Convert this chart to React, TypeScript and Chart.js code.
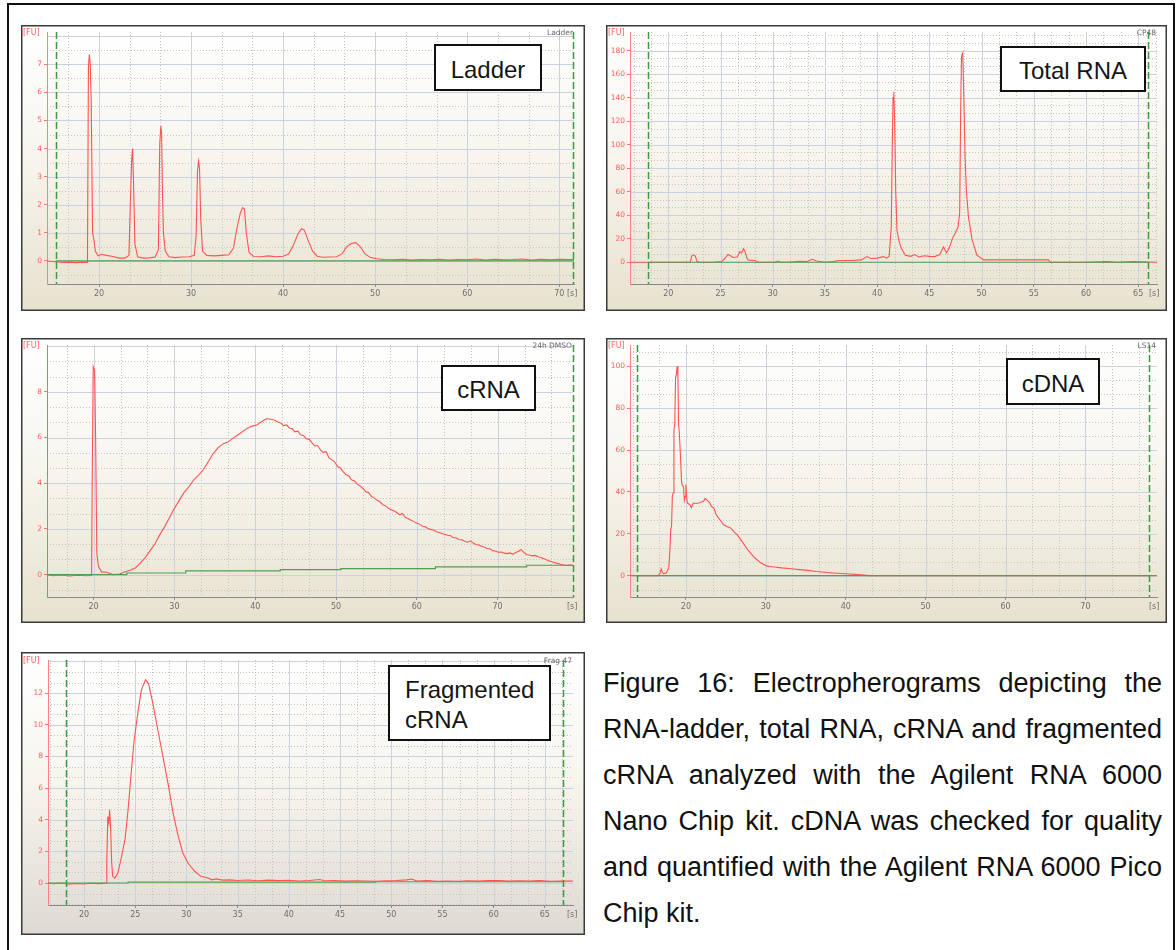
import React, { useEffect, useRef } from "react";
import { Chart, registerables } from "chart.js";

Chart.register(...registerables);

// ---------------- DATA ----------------
// Ladder
const ladderTime = [
  14.35, 16.1, 16.8, 17.5, 18.2, 18.7, 18.75, 18.85, 18.95, 19.05,
  19.15, 19.3, 19.45, 19.6, 19.9, 20.3, 20.8, 21.5, 22.2, 22.8,
  23.25, 23.4, 23.55, 23.65, 23.75, 23.9, 24.2, 24.8, 25.5, 26.1,
  26.45, 26.6, 26.72, 26.8, 26.9, 27.0, 27.2, 27.6, 28.3, 29.0,
  29.8, 30.35, 30.55, 30.7, 30.82, 30.92, 31.05, 31.25, 31.7, 32.5,
  33.3, 34.1, 34.6, 35.0, 35.35, 35.6, 35.8, 36.0, 36.3, 36.8,
  37.6, 38.4, 39.2, 40.0, 40.6, 41.1, 41.6, 42.0, 42.3, 42.7,
  43.2, 43.7, 44.3, 45.0, 45.8, 46.4, 46.9, 47.4, 47.9, 48.4,
  48.9, 49.5, 50.2, 51.0, 52.0, 53.0, 54.0, 55.0, 56.0, 57.0,
  58.0, 59.0, 60.0, 61.0, 62.0, 63.0, 64.0, 65.0, 66.0, 67.0,
  68.0, 69.0, 70.0, 71.0, 71.6,
];
const ladderFU = [
  0, -0.05, -0.04, -0.06, -0.04, -0.05, 0.3, 6.9, 7.35, 7.0,
  5.7, 1.0, 0.75, 0.35, 0.18, 0.24, 0.2, 0.16, 0.1, 0.1,
  0.2, 2.0, 3.6, 4.0, 2.8, 0.6, 0.15, 0.1, 0.11, 0.14,
  0.4, 4.2, 4.8, 4.5, 2.3, 1.0, 0.35, 0.15, 0.12, 0.14,
  0.15, 0.2, 0.9, 3.2, 3.55, 3.3, 1.5, 0.35, 0.2, 0.18,
  0.2, 0.22, 0.45, 1.2, 1.7, 1.9, 1.85, 1.0, 0.3, 0.16,
  0.15, 0.18, 0.15, 0.17, 0.25, 0.55, 0.95, 1.15, 1.1, 0.75,
  0.35, 0.17, 0.13, 0.14, 0.15, 0.25, 0.5, 0.62, 0.65, 0.5,
  0.25, 0.12, 0.08, 0.05, 0.04, 0.06, 0.03, 0.05, 0.04, 0.06,
  0.03, 0.05, 0.04, 0.07, 0.03, 0.06, 0.04, 0.05, 0.07, 0.03,
  0.06, 0.04, 0.06, 0.05, 0.05,
];
const ladderBaseTime = [15.3, 71.6];
const ladderBaseFU = [0, 0];
const ladderMarkers = [15.3, 71.5];
const ladderXTicks = [20, 30, 40, 50, 60, 70];
const ladderYTicks = [0, 1, 2, 3, 4, 5, 6, 7];

// Total RNA
const totalTime = [
  16.33, 18.0, 20.0, 22.1, 22.25, 22.45, 22.6, 22.75, 23.0, 24.4,
  25.1, 25.4, 25.7, 25.9, 26.2, 26.6, 26.85, 27.0, 27.2, 27.35,
  27.55, 27.7, 28.3, 28.6, 30.2, 30.5, 30.8, 31.5, 32.5, 33.2,
  33.8, 34.2, 35.0, 35.8, 36.3, 37.5, 38.5, 39.0, 39.4, 40.0,
  40.6, 40.9, 41.15, 41.35, 41.45, 41.52, 41.6, 41.68, 41.78, 41.9,
  42.1, 42.3, 42.7, 43.2, 43.6, 44.0, 44.5, 45.0, 45.5, 46.0,
  46.35, 46.65, 46.9, 47.2, 47.5, 47.75, 47.9, 48.0, 48.08, 48.2,
  48.3, 48.42, 48.55, 48.75, 49.1, 49.55, 50.2, 52.0, 54.0, 56.4,
  56.6, 60.0, 62.0, 63.0, 64.5, 66.8,
];
const totalFU = [
  0, 0, 0, 0, 5.5, 6.3, 5.0, 0.5, 0, 0,
  0.5, 3, 6.5, 6, 4, 4.5, 9, 8, 11.5, 9,
  3, 1.8, 1.5, 0, 0, 1, 0, 0, 0.8, 0.5,
  2.5, 1.0, 0, 0.5, 1.5, 1.5, 2, 4.8, 3.2, 3.5,
  4.8, 3.5, 5, 30, 100, 140, 145, 118, 60, 27,
  18, 12, 6, 5, 6.5, 4.5, 5.5, 5, 4.8, 6.5,
  13, 8, 12, 20, 25, 30, 42, 130, 175, 178,
  140, 90, 60, 38, 19, 6, 2, 2, 2, 2,
  0, 0, 0.5, 0, 0.5, 0,
];
const totalBaseTime = [18.1, 65.9];
const totalBaseFU = [0, 0];
const totalMarkers = [18.1, 65.9];
const totalXTicks = [20, 25, 30, 35, 40, 45, 50, 55, 60, 65];
const totalYTicks = [0, 20, 40, 60, 80, 100, 120, 140, 160, 180];

// cRNA
const cRnaTime = [
  14.23, 15.0, 16.0, 17.0, 18.0, 19.0, 19.75, 19.82, 19.95, 20.12,
  20.25, 20.4, 20.6, 21.0, 21.6, 22.4, 23.2, 24.0, 24.6, 25.2,
  25.8, 26.4, 27.0, 27.6, 28.2, 28.8, 29.4, 30.0, 30.6, 31.2,
  31.8, 32.4, 33.0, 33.6, 34.2, 34.8, 35.4, 36.0, 36.6, 37.2,
  37.8, 38.4, 39.0, 39.6, 40.2, 40.8, 41.4, 42.0, 42.4, 42.8,
  43.2, 43.5, 43.9, 44.2, 44.6, 44.9, 45.3, 45.6, 46.0, 46.3,
  46.7, 47.0, 47.4, 47.7, 48.1, 48.4, 48.8, 49.1, 49.5, 49.8,
  50.2, 50.5, 50.9, 51.2, 51.6, 51.9, 52.3, 52.6, 53.0, 53.3,
  53.7, 54.0, 54.4, 54.7, 55.1, 55.4, 55.8, 56.1, 56.5, 56.8,
  57.2, 57.5, 57.9, 58.2, 58.6, 58.9, 59.3, 59.6, 60.0, 60.3,
  60.7, 61.0, 61.4, 61.7, 62.1, 62.4, 62.8, 63.1, 63.5, 63.8,
  64.2, 64.5, 64.9, 65.2, 65.6, 65.9, 66.3, 66.6, 67.0, 67.3,
  67.7, 68.0, 68.4, 68.7, 69.1, 69.4, 69.8, 70.1, 70.5, 70.8,
  71.2, 71.5, 71.9, 72.2, 72.6, 72.9, 73.3, 73.6, 74.0, 74.3,
  74.7, 75.0, 75.4, 75.7, 76.1, 76.4, 76.8, 77.1, 77.5, 77.8,
  78.2, 78.5, 78.9, 79.33,
];
const cRnaFU = [
  0, -0.05, -0.02, -0.06, -0.03, -0.05, -0.04, 3.8, 9.1, 8.95,
  5.9, 0.9, 0.35, 0.12, 0.1, 0.0, 0.03, 0.14, 0.2, 0.3,
  0.5, 0.75, 1.05, 1.35, 1.75, 2.1, 2.5, 2.9, 3.25, 3.6,
  3.85, 4.15, 4.35, 4.6, 4.95, 5.3, 5.55, 5.72, 5.8, 5.95,
  6.1, 6.25, 6.4, 6.5, 6.55, 6.7, 6.82, 6.8, 6.76, 6.68,
  6.62, 6.52, 6.55, 6.42, 6.38, 6.25, 6.28, 6.12, 6.08, 5.95,
  5.92, 5.78, 5.62, 5.66, 5.45, 5.35, 5.38, 5.12, 5.02, 4.95,
  4.72, 4.68, 4.5, 4.38, 4.32, 4.15, 4.1, 3.96, 3.88, 3.78,
  3.62, 3.6, 3.42, 3.36, 3.25, 3.2, 3.06, 3.02, 2.9, 2.85,
  2.78, 2.72, 2.62, 2.68, 2.5, 2.46, 2.38, 2.33, 2.25, 2.22,
  2.12, 2.1, 2.02, 1.98, 1.95, 1.88, 1.84, 1.8, 1.76, 1.72,
  1.7, 1.62, 1.6, 1.54, 1.52, 1.46, 1.42, 1.48, 1.38, 1.32,
  1.3, 1.24, 1.2, 1.14, 1.12, 1.05, 1.02, 0.98, 0.99, 0.94,
  0.92, 0.95, 0.9, 0.96, 1.02, 1.1, 0.95, 0.88, 0.85, 0.82,
  0.84, 0.78, 0.74, 0.7, 0.64, 0.6, 0.55, 0.52, 0.48, 0.45,
  0.42, 0.4, 0.42, 0.41,
];
const cRnaBaseTime = [14.23, 24.1, 24.1, 31.4, 31.4, 43.1, 43.1, 50.6, 50.6, 62.3, 62.3, 73.6, 73.6, 79.33];
const cRnaBaseFU = [0, 0, 0.07, 0.07, 0.16, 0.16, 0.22, 0.22, 0.26, 0.26, 0.34, 0.34, 0.41, 0.41];
const cRnaMarkers = [79.3];
const cRnaXTicks = [20, 30, 40, 50, 60, 70];
const cRnaYTicks = [0, 2, 4, 6, 8];

// cDNA
const cDnaTime = [
  13.0, 15.65, 16.5, 16.75, 16.9, 17.05, 17.2, 17.55, 17.85, 18.0,
  18.1, 18.2, 18.3, 18.4, 18.5, 18.6, 18.7, 18.8, 18.9, 19.0,
  19.08, 19.15, 19.3, 19.45, 19.55, 19.7, 19.8, 19.9, 20.0, 20.08,
  20.17, 20.5, 20.7, 20.9, 21.3, 21.6, 21.9, 22.2, 22.4, 22.6,
  22.8, 22.95, 23.2, 23.5, 23.8, 24.1, 24.4, 24.7, 25.1, 25.6,
  26.0, 26.4, 26.9, 27.3, 27.7, 28.1, 28.5, 28.9, 29.4, 30.0,
  30.5, 31.05, 32.0, 33.2, 34.2, 35.3, 36.3, 37.4, 38.4, 39.5,
  40.5, 41.6, 42.9, 45.0, 79.0,
];
const cDnaFU = [
  0, 0, 0, 1, 3.2, 1.5, 1, 1.3, 3.7, 12.4,
  22, 23.6, 38, 39.5, 69.7, 72, 94.4, 96, 100, 95.2,
  72, 69.7, 58.6, 45, 43, 42.7, 36, 37.9, 43.5, 38,
  34.7, 33.9, 32.5, 34.7, 34.5, 34.7, 35.2, 35.5, 36.8, 36.3,
  35.5, 35.0, 33, 32.3, 29, 27.5, 26, 24.4, 23.5, 22.8,
  21, 19.6, 17, 14.8, 12.5, 10.8, 9, 7.6, 6, 4.8,
  4.4, 4.1, 3.7, 3.3, 2.9, 2.5, 2.0, 1.6, 1.3, 1.0,
  0.8, 0.5, 0, 0, 0,
];
const cDnaBaseTime = [13.83, 78.0];
const cDnaBaseFU = [0, 0];
const cDnaMarkers = [13.83, 78.0];
const cDnaXTicks = [20, 30, 40, 50, 60, 70];
const cDnaYTicks = [0, 20, 40, 60, 80, 100];

// Fragmented cRNA
const fragTime = [
  16.48, 17.0, 17.8, 18.5, 19.2, 19.9, 20.6, 21.4, 22.15, 22.22,
  22.32, 22.42, 22.5, 22.6, 22.7, 22.8, 23.0, 23.3, 23.6, 24.0,
  24.3, 24.6, 24.9, 25.3, 25.6, 26.0, 26.3, 26.7, 27.2, 27.7,
  28.2, 28.7, 29.2, 29.65, 30.15, 30.8, 31.4, 32.1, 32.5, 32.9,
  33.5, 34.2, 35.0, 36.0, 37.0, 38.0, 39.0, 40.0, 41.0, 42.0,
  43.0, 43.5, 44.5, 45.5, 46.5, 47.5, 48.5, 49.5, 50.5, 51.5,
  52.0, 52.5, 53.5, 54.5, 55.5, 56.5, 57.5, 58.5, 59.5, 60.5,
  61.5, 62.5, 63.5, 64.5, 65.5, 66.5, 67.75,
];
const fragFU = [
  0, -0.05, 0.0, -0.08, -0.03, -0.06, -0.02, -0.04, -0.02, 1.26,
  4.2, 3.8, 4.63, 3.37, 1.26, 0.42, 0.3, 0.63, 1.47, 2.74,
  4.63, 6.95, 9.05, 10.95, 12.2, 12.84, 12.6, 11.4, 9.7, 8.0,
  6.3, 4.4, 2.95, 1.9, 1.26, 0.74, 0.42, 0.32, 0.2, 0.26,
  0.18, 0.2, 0.16, 0.19, 0.14, 0.18, 0.15, 0.17, 0.13, 0.16,
  0.22, 0.14, 0.16, 0.12, 0.14, 0.13, 0.11, 0.14, 0.16, 0.2,
  0.25, 0.12, 0.15, 0.1, 0.13, 0.11, 0.14, 0.12, 0.16, 0.15,
  0.12, 0.14, 0.13, 0.15, 0.11, 0.13, 0.12,
];
const fragBaseTime = [16.48, 24.3, 24.3, 48.5, 48.5, 66.8];
const fragBaseFU = [0, 0, 0.05, 0.05, 0.08, 0.08];
const fragMarkers = [18.28, 66.8];
const fragXTicks = [20, 25, 30, 35, 40, 45, 50, 55, 60, 65];
const fragYTicks = [0, 2, 4, 6, 8, 10, 12];

// ---------------- PANELS ----------------
type PanelSpec = {
  id: string;
  left: number; top: number; w: number; h: number;
  area: [number, number, number, number];
  xRange: [number, number]; yRange: [number, number];
  xMajor: number; xMinor: number; yMajor: number; yMinor: number;
  xTicks: number[]; yTicks: number[];
  time: number[]; fu: number[];
  baseTime: number[]; baseFU: number[];
  markers: number[];
  sample: string;
  yAxisColor: string;
  bottomColor: string;
};

const RED = "#ff5252";
const GREEN = "#4f9f4f";
const MARK_GREEN = "#3f9a3f";
const TICK_FONT = { family: "'DejaVu Sans', Verdana, sans-serif", size: 8 };

const panels: PanelSpec[] = [
  {
    id: "ladder", left: 21, top: 25, w: 564, h: 286, area: [26, 7, 553, 259],
    xRange: [14.35, 71.6], yRange: [-0.82, 8.15], xMajor: 10, xMinor: 10 / 3, yMajor: 1, yMinor: 0.5,
    xTicks: ladderXTicks, yTicks: ladderYTicks, time: ladderTime, fu: ladderFU,
    baseTime: ladderBaseTime, baseFU: ladderBaseFU, markers: ladderMarkers, sample: "Ladder",
    yAxisColor: "#ff8080", bottomColor: "#e7e2cf",
  },
  {
    id: "total", left: 606, top: 25, w: 561, h: 286, area: [24, 7, 551, 259],
    xRange: [16.33, 66.8], yRange: [-18.5, 195.8], xMajor: 5, xMinor: 5 / 3, yMajor: 20, yMinor: 20 / 3,
    xTicks: totalXTicks, yTicks: totalYTicks, time: totalTime, fu: totalFU,
    baseTime: totalBaseTime, baseFU: totalBaseFU, markers: totalMarkers, sample: "CP48",
    yAxisColor: "#ff8080", bottomColor: "#e7e2cf",
  },
  {
    id: "crna", left: 21, top: 338, w: 564, h: 285, area: [26, 7, 552, 259],
    xRange: [14.23, 79.33], yRange: [-0.98, 10.05], xMajor: 10, xMinor: 10 / 3, yMajor: 2, yMinor: 2 / 3,
    xTicks: cRnaXTicks, yTicks: cRnaYTicks, time: cRnaTime, fu: cRnaFU,
    baseTime: cRnaBaseTime, baseFU: cRnaBaseFU, markers: cRnaMarkers, sample: "24h DMSO",
    yAxisColor: "#6aaa6a", bottomColor: "#e7e2cf",
  },
  {
    id: "cdna", left: 606, top: 338, w: 561, h: 285, area: [24, 7, 551, 259],
    xRange: [13.0, 78.96], yRange: [-10.2, 110.2], xMajor: 10, xMinor: 10 / 3, yMajor: 20, yMinor: 20 / 3,
    xTicks: cDnaXTicks, yTicks: cDnaYTicks, time: cDnaTime, fu: cDnaFU,
    baseTime: cDnaBaseTime, baseFU: cDnaBaseFU, markers: cDnaMarkers, sample: "LS14",
    yAxisColor: "#ff8080", bottomColor: "#e7e2cf",
  },
  {
    id: "frag", left: 21, top: 652, w: 564, h: 283, area: [27, 8, 552, 253],
    xRange: [16.48, 67.75], yRange: [-1.39, 14.09], xMajor: 5, xMinor: 5 / 3, yMajor: 2, yMinor: 2 / 3,
    xTicks: fragXTicks, yTicks: fragYTicks, time: fragTime, fu: fragFU,
    baseTime: fragBaseTime, baseFU: fragBaseFU, markers: fragMarkers, sample: "Frag 47",
    yAxisColor: "#ff8080", bottomColor: "#dedad3",
  },
];

function gridValues(min: number, max: number, step: number): number[] {
  const out: number[] = [];
  const k0 = Math.ceil(min / step - 1e-9);
  const k1 = Math.floor(max / step + 1e-9);
  for (let k = k0; k <= k1; k++) out.push(k * step);
  return out;
}
function isMultiple(v: number, step: number) {
  const r = v / step;
  return Math.abs(r - Math.round(r)) < 1e-6;
}

function Panel({ spec }: { spec: PanelSpec }) {
  const ref = useRef<HTMLCanvasElement | null>(null);
  useEffect(() => {
    const canvas = ref.current;
    if (!canvas) return;
    const [aL, aT, aR, aB] = spec.area;

    const deco = {
      id: "deco_" + spec.id,
      beforeDraw(chart: any) {
        const { ctx, width, height } = chart;
        ctx.save();
        const g = ctx.createLinearGradient(0, 0, 0, height);
        g.addColorStop(0, "#ffffff");
        g.addColorStop(0.45, "#f7f5ee");
        g.addColorStop(1, spec.bottomColor);
        ctx.fillStyle = g;
        ctx.fillRect(0, 0, width, height);

        const ca = chart.chartArea;
        const xs = chart.scales.x;
        const ys = chart.scales.y;
        ctx.beginPath();
        ctx.rect(ca.left, ca.top, ca.right - ca.left, ca.bottom - ca.top);
        ctx.clip();
        ctx.lineWidth = 1;

        // minor dotted grid
        ctx.setLineDash([1, 2]);
        ctx.strokeStyle = "#c4c4c4";
        gridValues(xs.min, xs.max, spec.xMinor)
          .filter((v) => !isMultiple(v, spec.xMajor))
          .forEach((v) => {
            const p = Math.round(xs.getPixelForValue(v)) + 0.5;
            ctx.beginPath(); ctx.moveTo(p, ca.top); ctx.lineTo(p, ca.bottom); ctx.stroke();
          });
        gridValues(ys.min, ys.max, spec.yMinor)
          .filter((v) => !isMultiple(v, spec.yMajor))
          .forEach((v) => {
            const p = Math.round(ys.getPixelForValue(v)) + 0.5;
            ctx.beginPath(); ctx.moveTo(ca.left, p); ctx.lineTo(ca.right, p); ctx.stroke();
          });
        // major solid grid
        ctx.setLineDash([]);
        ctx.strokeStyle = "#cbd1e0";
        gridValues(xs.min, xs.max, spec.xMajor).forEach((v) => {
          const p = Math.round(xs.getPixelForValue(v)) + 0.5;
          ctx.beginPath(); ctx.moveTo(p, ca.top); ctx.lineTo(p, ca.bottom); ctx.stroke();
        });
        gridValues(ys.min, ys.max, spec.yMajor).forEach((v) => {
          const p = Math.round(ys.getPixelForValue(v)) + 0.5;
          ctx.beginPath(); ctx.moveTo(ca.left, p); ctx.lineTo(ca.right, p); ctx.stroke();
        });
        ctx.restore();
      },
      afterDatasetsDraw(chart: any) {
        const { ctx } = chart;
        const ca = chart.chartArea;
        const xs = chart.scales.x;
        ctx.save();
        ctx.strokeStyle = MARK_GREEN;
        ctx.lineWidth = 1.5;
        ctx.setLineDash([7, 3]);
        spec.markers.forEach((m) => {
          const p = Math.round(xs.getPixelForValue(m)) + 0.5;
          ctx.beginPath(); ctx.moveTo(p, ca.top); ctx.lineTo(p, ca.bottom); ctx.stroke();
        });
        ctx.restore();
      },
      afterDraw(chart: any) {
        const { ctx, width, height } = chart;
        const ca = chart.chartArea;
        ctx.save();
        ctx.font = "8px 'DejaVu Sans', Verdana, sans-serif";
        ctx.textBaseline = "alphabetic";
        ctx.fillStyle = "#ff6060";
        ctx.textAlign = "left";
        ctx.fillText("[FU]", 2, ca.top + 3);
        ctx.fillStyle = "#666666";
        ctx.textAlign = "right";
        ctx.font = "7.5px 'DejaVu Sans', Verdana, sans-serif";
        ctx.fillText(spec.sample, ca.right - 1, ca.top + 3);
        ctx.font = "8px 'DejaVu Sans', Verdana, sans-serif";
        ctx.fillStyle = "#6e6e6e";
        ctx.textAlign = "left";
        ctx.textBaseline = "middle";
        ctx.fillText("[s]", width - 18, ca.bottom + 10);
        ctx.strokeStyle = "#3a3a3a";
        ctx.lineWidth = 1.5;
        ctx.setLineDash([]);
        ctx.strokeRect(0.75, 0.75, width - 1.5, height - 1.5);
        ctx.restore();
      },
    };

    const tracePts = spec.time.map((t, i) => ({ x: t, y: spec.fu[i] }));
    const basePts = spec.baseTime.map((t, i) => ({ x: t, y: spec.baseFU[i] }));

    const chart = new Chart(canvas, {
      type: "line",
      data: {
        datasets: [
          { data: basePts, borderColor: GREEN, borderWidth: 1.2, pointRadius: 0, tension: 0, fill: false },
          { data: tracePts, borderColor: RED, borderWidth: 1.1, pointRadius: 0, tension: 0, fill: false },
        ],
      },
      options: {
        animation: false,
        responsive: false,
        devicePixelRatio: 1,
        events: [],
        layout: { padding: { left: 0, top: aT, right: spec.w - aR, bottom: 0 } },
        plugins: { legend: { display: false }, tooltip: { enabled: false } },
        scales: {
          x: {
            type: "linear",
            min: spec.xRange[0],
            max: spec.xRange[1],
            afterBuildTicks: (s: any) => { s.ticks = spec.xTicks.map((v) => ({ value: v })); },
            afterFit: (s: any) => { s.height = spec.h - aB; },
            ticks: { color: "#6e6e6e", font: TICK_FONT, padding: 2, maxRotation: 0, autoSkip: false },
            grid: { drawOnChartArea: false, drawTicks: true, tickLength: 3, tickColor: "#8a8a8a" },
            border: { display: true, color: "#8a8a8a", width: 1 },
          },
          y: {
            type: "linear",
            min: spec.yRange[0],
            max: spec.yRange[1],
            afterBuildTicks: (s: any) => { s.ticks = spec.yTicks.map((v) => ({ value: v })); },
            afterFit: (s: any) => { s.width = aL; },
            ticks: { color: "#ff5c5c", font: { family: "'DejaVu Sans', Verdana, sans-serif", size: 7.5 }, padding: 2, autoSkip: false },
            grid: { drawOnChartArea: false, drawTicks: true, tickLength: 3, tickColor: "#ff7070" },
            border: { display: true, color: spec.yAxisColor, width: 1 },
          },
        },
      } as any,
      plugins: [deco],
    });
    return () => chart.destroy();
  }, [spec]);

  return (
    <canvas
      ref={ref}
      width={spec.w}
      height={spec.h}
      style={{ position: "absolute", left: spec.left, top: spec.top, width: spec.w, height: spec.h }}
    />
  );
}

const labelFont = "'Liberation Sans', Arial, sans-serif";

function LabelBox({ left, top, w, h, children, multi }: any) {
  const base: React.CSSProperties = {
    position: "absolute", left, top, width: w, height: h, boxSizing: "border-box",
    border: "2px solid #111", background: "#ffffff", fontFamily: labelFont, fontSize: 24,
    color: "#151515",
  };
  if (multi) {
    return <div style={{ ...base, paddingLeft: 15, paddingTop: 8, lineHeight: "30px" }}>{children}</div>;
  }
  return (
    <div style={{ ...base, display: "flex", alignItems: "center", justifyContent: "center", paddingTop: 4 }}>
      {children}
    </div>
  );
}

export default function App() {
  return (
    <div style={{ position: "absolute", left: 0, top: 0, width: 1176, height: 950, overflow: "hidden", background: "#ffffff" }}>
      <div style={{ position: "absolute", left: 7, top: 3, width: 1164, height: 980, border: "2px solid #111" }} />
      {panels.map((p) => (
        <Panel key={p.id} spec={p} />
      ))}
      <LabelBox left={434} top={44} w={108} h={47}>Ladder</LabelBox>
      <LabelBox left={1000} top={46} w={146} h={46}>Total RNA</LabelBox>
      <LabelBox left={441} top={365} w={95} h={46}>cRNA</LabelBox>
      <LabelBox left={1006} top={358} w={94} h={47}>cDNA</LabelBox>
      <LabelBox left={388} top={665} w={163} h={76} multi>
        Fragmented<br />cRNA
      </LabelBox>
      <div
        style={{
          position: "absolute", left: 603, top: 660, width: 559, fontFamily: labelFont,
          fontSize: 27, lineHeight: "46px", textAlign: "justify", color: "#111",
        }}
      >
        Figure 16: Electropherograms depicting the RNA-ladder, total RNA, cRNA and fragmented cRNA analyzed
        with the Agilent RNA 6000 Nano Chip kit. cDNA was checked for quality and quantified with the Agilent
        RNA 6000 Pico Chip kit.
      </div>
    </div>
  );
}
